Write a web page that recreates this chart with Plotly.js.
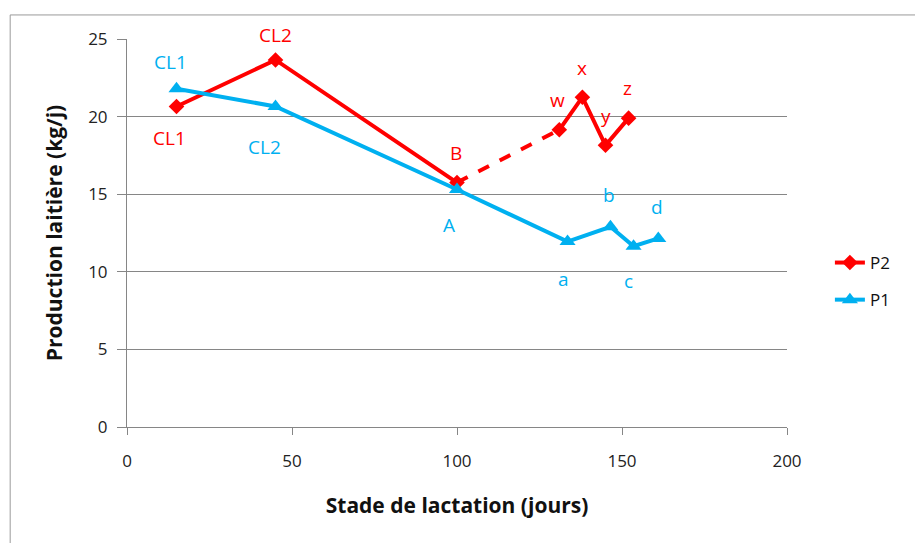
<!DOCTYPE html>
<html><head><meta charset="utf-8">
<script src="https://cdn.plot.ly/plotly-3.0.1.min.js"></script>
<style>body{margin:0;background:#fff}#chart{width:915px;height:543px}</style>
</head><body><div id="chart"></div>
<script>
// Data
const p2Days = [15, 45, 100, 131, 138, 145, 152];
const p2Prod = [20.65, 23.65, 15.75, 19.15, 21.25, 18.15, 19.9];
const p2Labels = ["CL1", "CL2", "B", "w", "x", "y", "z"];
const p1Days = [15, 45, 100, 133.5, 146.5, 153.5, 161];
const p1Prod = [21.8, 20.65, 15.3, 11.95, 12.9, 11.65, 12.15];
const p1Labels = ["CL1", "CL2", "A", "a", "b", "c", "d"];
const xTicks = [0, 50, 100, 150, 200];
const yTicks = [0, 5, 10, 15, 20, 25];

const RED = "#FF0000", BLUE = "#00B0F0";
const FONT = "'Open Sans', sans-serif";
const lw = 4;
const traces = [
  {x: p2Days.slice(0,3), y: p2Prod.slice(0,3), name: "P2", mode: "lines+markers", legendgroup: "p2",
   line: {color: RED, width: lw}, marker: {symbol: "diamond", size: 12, color: RED}},
  {x: p2Days.slice(2,4), y: p2Prod.slice(2,4), name: "P2", mode: "lines", legendgroup: "p2", showlegend: false,
   line: {color: RED, width: lw, dash: "dash"}},
  {x: p2Days.slice(3), y: p2Prod.slice(3), name: "P2", mode: "lines+markers", legendgroup: "p2", showlegend: false,
   line: {color: RED, width: lw}, marker: {symbol: "diamond", size: 12, color: RED}},
  {x: p1Days, y: p1Prod, name: "P1", mode: "lines+markers",
   line: {color: BLUE, width: lw}, marker: {symbol: "triangle-up", size: 14, color: BLUE}}
];

// label offsets (px)
const p2Off = [[-7,31],[0,-25],[-1,-30],[-2,-30],[0,-29],[0,-29],[-1,-30]];
const p1Off = [[-6,-27],[-11,40],[-8,35],[-4,37],[-1,-32],[-5,35],[-1,-31]];
const annotations = [];
function addLabels(xs, ys, labels, offs, color){
  for (let i=0;i<xs.length;i++){
    annotations.push({x: xs[i], y: ys[i], xref: "x", yref: "y", text: labels[i], showarrow: false,
      xshift: offs[i][0], yshift: -offs[i][1],
      font: {family: FONT, size: 19, color: color}});
  }
}
addLabels(p2Days, p2Prod, p2Labels, p2Off, RED);
addLabels(p1Days, p1Prod, p1Labels, p1Off, BLUE);

const layout = {
  width: 915, height: 543,
  margin: {l: 127, r: 128, t: 39, b: 116, pad: 0},
  paper_bgcolor: "#fff", plot_bgcolor: "#fff",
  font: {family: FONT, size: 15, color: "#222"},
  showlegend: true,
  legend: {x: 1.065, y: 0.375, xanchor: "left", yanchor: "middle", font: {size: 17, color: "#111"},
           tracegroupgap: 12, bgcolor: "rgba(0,0,0,0)"},
  xaxis: {range: [0, 200], tickvals: xTicks, ticktext: xTicks.map(String), showgrid: false, zeroline: false,
          showline: true, linecolor: "#868686", linewidth: 1, ticks: "outside", ticklen: 7, tickcolor: "#868686",
          tickfont: {size: 17, color: "#222"}, ticklabelstandoff: 12,
          title: {text: "<b>Stade de lactation (jours)</b>", font: {size: 21, color: "#111"}, standoff: 26}},
  yaxis: {range: [0, 25], tickvals: yTicks, ticktext: yTicks.map(String), showgrid: true, gridcolor: "#868686", gridwidth: 1,
          zeroline: false, showline: true, linecolor: "#868686", linewidth: 1, ticks: "outside", ticklen: 9, tickcolor: "#868686",
          tickfont: {size: 17, color: "#222"}, ticklabelstandoff: 6,
          title: {text: "<b>Production laitière (kg/j)</b>", font: {size: 21, color: "#111"}, standoff: 19}},
  annotations: annotations,
  shapes: [{type: "rect", xref: "paper", yref: "paper", x0: -0.177, x1: 1.5, y0: -1, y1: 1.062,
            line: {color: "#9a9a9a", width: 1}, fillcolor: "rgba(0,0,0,0)", layer: "below"}]
};
Plotly.newPlot("chart", traces, layout, {displayModeBar: false, staticPlot: true});
</script></body></html>
